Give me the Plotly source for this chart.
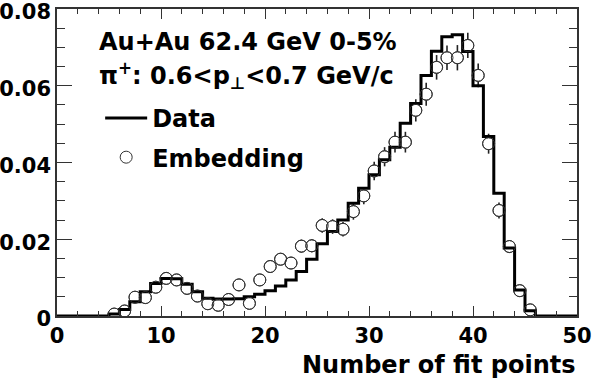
import plotly.graph_objects as go

# ---- data ----
bin_edges = list(range(0, 51))
data_values = [0, 0, 0, 0, 0,
               0.0005, 0.0017, 0.0037, 0.0063, 0.0085, 0.0098, 0.0097, 0.0083, 0.0063, 0.0046,
               0.0044, 0.0044, 0.0045, 0.0050, 0.0057, 0.0066, 0.0078, 0.0094, 0.0116, 0.0148,
               0.0188, 0.0220, 0.0250, 0.0294, 0.0333, 0.0368, 0.0407, 0.0440, 0.0502, 0.0554,
               0.0627, 0.0690, 0.0728, 0.0733, 0.0689, 0.0600, 0.0468, 0.0320, 0.0177, 0.0068,
               0.0014, 0, 0, 0, 0]
emb_centers = [n + 0.5 for n in range(5, 46)]
emb_values = [0.0005, 0.0013, 0.0049, 0.0048, 0.0075, 0.0098, 0.0094, 0.0072, 0.0052, 0.0032,
              0.0028, 0.0043, 0.0081, 0.0033, 0.0094, 0.0129, 0.0148, 0.0138, 0.0182, 0.0183,
              0.0236, 0.0233, 0.0226, 0.0272, 0.0313, 0.0378, 0.0415, 0.0453, 0.0453, 0.0536,
              0.0578, 0.0648, 0.0673, 0.0673, 0.0705, 0.0627, 0.0449, 0.0275, 0.0181, 0.0066,
              0.0016]
emb_errors = [0.0004, 0.0006, 0.0009, 0.0009, 0.0011, 0.0012, 0.0012, 0.0011, 0.0009, 0.0007,
              0.0007, 0.0008, 0.0011, 0.0007, 0.0012, 0.0014, 0.0015, 0.0015, 0.0017, 0.0017,
              0.0019, 0.0019, 0.0019, 0.0021, 0.0022, 0.0024, 0.0025, 0.0027, 0.0027, 0.0029,
              0.0030, 0.0032, 0.0032, 0.0033, 0.0033, 0.0031, 0.0026, 0.0021, 0.0017, 0.0010,
              0.0005]
x_ticks = [0, 10, 20, 30, 40, 50]
y_ticks = [0, 0.02, 0.04, 0.06, 0.08]
y_tick_labels = ["0", "0.02", "0.04", "0.06", "0.08"]

FONT = "DejaVu Sans"

fig = go.Figure()

# error bars with white-filled markers (gap look)
fig.add_trace(go.Scatter(
    x=emb_centers, y=emb_values, mode="markers", showlegend=False,
    marker=dict(symbol="circle", size=12, color="white", line=dict(color="#333", width=1)),
    error_y=dict(type="data", array=emb_errors, visible=True, color="#222", thickness=1.6, width=0),
    hoverinfo="skip"))

# data histogram
fig.add_trace(go.Scatter(
    x=bin_edges, y=data_values + [data_values[-1]], mode="lines", name="Data",
    line=dict(shape="hv", color="black", width=3), legendgroup="a"))

# embedding outlines
fig.add_trace(go.Scatter(
    x=emb_centers, y=emb_values, mode="markers", name="Embedding", legendgroup="b",
    marker=dict(symbol="circle-open", size=12, color="#333", line=dict(width=1))))

fig.update_layout(
    width=592, height=386,
    margin=dict(l=57, r=15, t=9, b=70, autoexpand=False),
    paper_bgcolor="white", plot_bgcolor="white",
    font=dict(family=FONT, size=21, color="black", weight="bold"),
    showlegend=True,
    legend=dict(x=0.083, y=0.717, xanchor="left", yanchor="top",
                font=dict(family=FONT, size=24, weight="bold"),
                bgcolor="rgba(0,0,0,0)", tracegroupgap=5, traceorder="grouped",
                itemwidth=42),
    xaxis=dict(range=[0, 50], tickvals=x_ticks, ticktext=[str(v) for v in x_ticks],
               ticks="inside", ticklen=10, tickwidth=1.2, tickcolor="#333",
               minor=dict(dtick=2, ticks="inside", ticklen=5, tickwidth=1.2, tickcolor="#333"),
               showline=True, linecolor="#333", linewidth=1.5, mirror="ticks",
               showgrid=False, zeroline=False, automargin=False, ticklabeloverflow="allow",
               tickfont=dict(family=FONT, size=21, weight="bold")),
    yaxis=dict(range=[0, 0.08], tickvals=y_ticks, ticktext=y_tick_labels,
               ticks="inside", ticklen=15, tickwidth=1.2, tickcolor="#333",
               minor=dict(dtick=0.005, ticks="inside", ticklen=8, tickwidth=1.2, tickcolor="#333"),
               showline=True, linecolor="#333", linewidth=1.5, mirror="ticks",
               showgrid=False, zeroline=False, automargin=False, ticklabeloverflow="allow",
               ticklabelshift=3,
               tickfont=dict(family=FONT, size=21, weight="bold")),
    annotations=[
        dict(text="Au+Au 62.4 GeV 0-5%", xref="paper", yref="paper", x=0.077, y=0.8925,
             xanchor="left", yanchor="middle", showarrow=False,
             font=dict(family=FONT, size=24, weight="bold")),
        dict(text="π<sup>+</sup>: 0.6&lt;p<sub>⊥</sub>&lt;0.7 GeV/c", xref="paper", yref="paper",
             x=0.077, y=0.785, xanchor="left", yanchor="middle", showarrow=False,
             font=dict(family=FONT, size=24, weight="bold")),
        dict(text="Number of fit points", xref="paper", yref="paper", x=1.0, y=-0.16,
             xanchor="right", yanchor="middle", showarrow=False,
             font=dict(family=FONT, size=24, weight="bold")),
    ],
)

fig.write_html("out.html", config={"displayModeBar": False},
               post_script="document.body.style.margin='0px';")
